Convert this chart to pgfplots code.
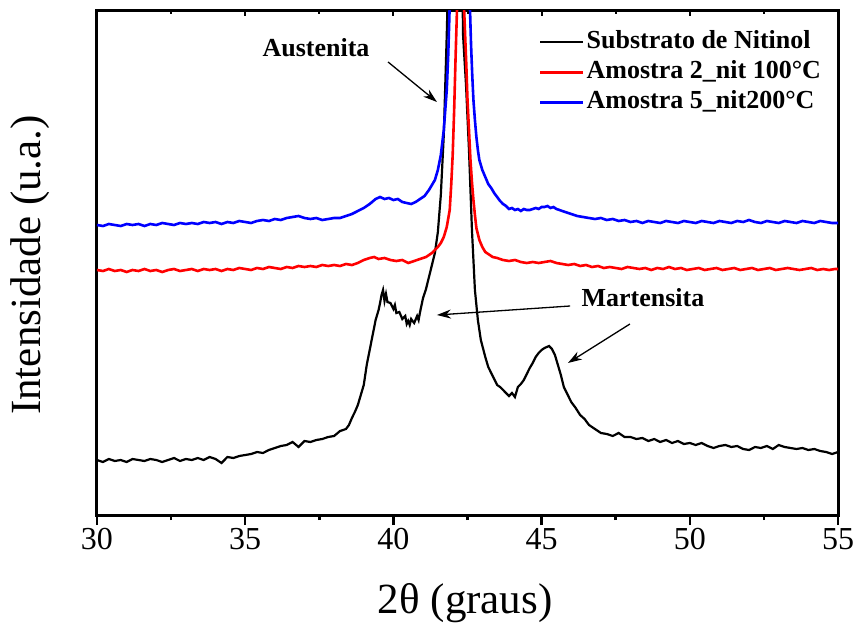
\documentclass[border=0pt]{standalone}
\usepackage{fontspec}
\setmainfont{Liberation Serif}
\usepackage{pgfplots}
\pgfplotsset{compat=1.18}
\usetikzlibrary{arrows.meta}

\pgfplotstableread{
x y
30.0 55
30.2 53
30.4 56
30.6 54
30.8 55
31.0 53
31.2 56
31.4 55
31.6 54
31.8 56
32.0 55
32.2 53
32.4 55
32.6 57
32.8 54
33.0 56
33.2 55
33.4 57
33.6 55
33.8 58
34.0 56
34.2 52
34.4 58
34.6 57
34.8 59
35.0 60
35.2 61
35.4 63
35.6 62
35.8 65
36.0 67
36.2 69
36.4 70
36.6 73
36.8 68
37.0 74
37.2 73
37.4 75
37.6 76
37.8 78
38.0 79
38.2 84
38.4 86
38.5 90
38.6 97
38.7 103
38.8 110
38.9 120
39.0 130
39.1 150
39.2 165
39.3 180
39.4 195
39.5 205
39.55 212
39.6 220
39.65 225
39.7 214
39.75 221
39.8 213
39.9 212
40.0 206
40.05 210
40.1 202
40.2 203
40.3 196
40.4 199
40.45 191
40.5 194
40.55 190
40.6 196
40.7 192
40.8 199
40.85 195
40.9 203
41.0 217
41.1 226
41.2 238
41.3 250
41.4 262
41.5 283
41.6 320
41.7 380
41.8 480
41.9 600
42.0 750
42.1 900
42.2 800
42.3 600
42.35 480
42.45 430
42.55 365
42.65 285
42.75 225
42.85 195
42.95 175
43.1 158
43.2 148
43.3 142
43.4 136
43.5 130
43.6 128
43.7 125
43.8 122
43.9 119
44.0 122
44.1 118
44.2 128
44.3 131
44.4 135
44.5 141
44.6 147
44.7 152
44.8 158
44.9 162
45.0 165
45.1 167
45.25 169
45.35 166
45.45 160
45.55 150
45.65 140
45.75 128
45.85 122
46.0 113
46.15 107
46.3 100
46.45 96
46.6 90
46.8 86
47.0 82
47.2 81
47.4 79
47.6 82
47.8 78
48.0 78
48.2 76
48.4 77
48.6 74
48.8 76
49.0 73
49.2 75
49.4 72
49.6 74
49.8 71
50.0 72
50.2 70
50.4 72
50.6 69
50.8 67
51.0 69
51.2 70
51.4 68
51.6 69
51.8 66
52.0 65
52.2 68
52.4 67
52.6 69
52.8 66
53.0 70
53.2 68
53.4 67
53.6 66
53.8 67
54.0 65
54.2 66
54.4 64
54.6 63
54.8 61
55.0 63
}\substrato

\pgfplotstableread{
x y
30.0 245
30.2 244
30.4 246
30.6 244
30.8 245
31.0 243
31.2 245
31.4 244
31.6 246
31.8 244
32.0 245
32.2 243
32.4 245
32.6 246
32.8 244
33.0 245
33.2 246
33.4 244
33.6 246
33.8 245
34.0 246
34.2 244
34.4 246
34.6 245
34.8 247
35.0 246
35.2 245
35.4 247
35.6 246
35.8 248
36.0 247
36.2 246
36.4 248
36.6 247
36.8 249
37.0 248
37.2 249
37.4 248
37.6 250
37.8 249
38.0 250
38.2 249
38.4 251
38.6 250
38.8 252
39.0 255
39.2 257
39.35 258
39.5 256
39.7 257
39.9 255
40.1 254
40.3 255
40.5 252
40.7 254
40.9 256
41.1 258
41.3 262
41.5 268
41.6 272
41.7 278
41.8 288
41.9 305
41.95 330
42.0 360
42.05 405
42.1 460
42.15 510
42.27 700
42.38 510
42.42 480
42.46 450
42.5 415
42.55 385
42.6 355
42.65 333
42.7 315
42.75 300
42.8 287
42.9 275
43.0 268
43.1 263
43.2 261
43.35 258
43.5 257
43.7 255
43.9 254
44.1 255
44.3 253
44.5 252
44.7 253
44.9 252
45.1 253
45.3 254
45.5 252
45.7 251
45.9 250
46.1 251
46.3 249
46.5 250
46.7 248
46.9 249
47.1 247
47.3 248
47.5 247
47.7 246
47.9 248
48.1 247
48.3 246
48.5 247
48.7 245
48.9 247
49.1 246
49.3 248
49.5 246
49.7 247
49.9 245
50.1 246
50.3 247
50.5 245
50.7 246
50.9 247
51.1 245
51.3 246
51.5 247
51.7 245
51.9 246
52.1 247
52.3 245
52.5 246
52.7 247
52.9 245
53.1 246
53.3 247
53.5 246
53.7 245
53.9 246
54.1 247
54.3 245
54.5 246
54.7 245
54.9 246
55.0 246
}\amostraA

\pgfplotstableread{
x y
30.0 290
30.2 289
30.4 291
30.6 290
30.8 289
31.0 291
31.2 290
31.4 291
31.6 289
31.8 291
32.0 290
32.2 292
32.4 291
32.6 290
32.8 292
33.0 291
33.2 292
33.4 291
33.6 293
33.8 292
34.0 293
34.2 291
34.4 293
34.6 292
34.8 294
35.0 293
35.2 292
35.4 294
35.6 295
35.8 294
36.0 296
36.2 295
36.4 297
36.6 298
36.8 299
37.0 297
37.2 296
37.4 297
37.6 295
37.8 296
38.0 297
38.2 297
38.4 299
38.6 301
38.8 304
39.0 307
39.2 311
39.4 316
39.55 318
39.7 316
39.85 317
40.0 315
40.15 316
40.3 313
40.45 312
40.6 311
40.75 313
40.9 316
41.05 319
41.2 325
41.3 330
41.4 335
41.5 345
41.6 360
41.7 385
41.75 405
41.8 425
41.85 460
41.9 510
42.25 700
42.58 510
42.62 470
42.66 440
42.7 415
42.75 395
42.8 378
42.85 365
42.9 355
43.0 345
43.1 338
43.2 331
43.3 327
43.4 322
43.5 318
43.6 314
43.7 311
43.8 309
43.9 306
44.0 307
44.1 305
44.2 306
44.3 304
44.4 306
44.5 305
44.6 305
44.7 306
44.8 307
44.9 306
45.0 308
45.1 308
45.2 309
45.3 307
45.4 308
45.5 306
45.6 305
45.8 303
46.0 301
46.2 299
46.4 298
46.6 297
46.8 296
47.0 297
47.2 295
47.4 296
47.6 294
47.8 295
48.0 293
48.2 294
48.4 292
48.6 294
48.8 293
49.0 292
49.2 294
49.4 293
49.6 292
49.8 294
50.0 293
50.2 292
50.4 294
50.6 293
50.8 292
51.0 294
51.2 293
51.4 292
51.6 294
51.8 293
52.0 295
52.2 293
52.4 292
52.6 294
52.8 293
53.0 292
53.2 294
53.4 293
53.6 292
53.8 294
54.0 293
54.2 292
54.4 294
54.6 293
54.8 292
55.0 292
}\amostraB

\begin{document}
\begin{tikzpicture}
\begin{axis}[
  scale only axis,
  width=741pt, height=504pt,
  xmin=30, xmax=55, ymin=0, ymax=504,
  xtick={30,35,...,55},
  minor x tick num=1,
  ytick=\empty,
  xtick pos=left,
  tick align=outside,
  major tick length=10pt,
  minor tick length=5pt,
  every tick/.style={line width=2.5pt, black},
  axis line style={line width=3pt},
  /pgf/number format/assume math mode=true,
  ticklabel style={font=\fontsize{32}{38}\selectfont},
  xlabel={2θ (graus)},
  ylabel={Intensidade (u.a.)},
  label style={font=\fontsize{43}{50}\selectfont},
  xlabel style={at={(axis description cs:0.497,-0.175)}, anchor=center},
  ylabel style={at={(axis description cs:-0.0905,0.496)}, anchor=center},
  legend style={at={(0.984,0.972)}, anchor=north east, draw=none, fill=none,
    font=\fontsize{26}{30}\selectfont\bfseries,
    nodes={text height=19pt, text depth=7pt, inner sep=2pt}},
  legend cell align=left,
  legend image code/.code={\draw[#1] (0pt,0pt) -- (43pt,0pt);},
]
\addplot[black, line width=2.2pt] table {\substrato};
\addlegendentry{Substrato de Nitinol}
\addplot[red, line width=2.6pt] table {\amostraA};
\addlegendentry{Amostra 2\_nit 100°C}
\addplot[blue, line width=2.6pt] table {\amostraB};
\addlegendentry{Amostra 5\_nit200°C}

\node[font=\fontsize{26}{30}\selectfont\bfseries] at (axis cs:37.39,467) {Austenita};
\draw[-{Stealth[length=14pt,width=9pt]}, line width=1.3pt] (axis cs:39.82,453) -- (axis cs:41.47,413);
\node[font=\fontsize{26}{30}\selectfont\bfseries] at (axis cs:48.42,217) {Martensita};
\draw[-{Stealth[length=14pt,width=9pt]}, line width=1.3pt] (axis cs:45.96,209) -- (axis cs:41.47,200);
\draw[-{Stealth[length=14pt,width=9pt]}, line width=1.3pt] (axis cs:47.98,191) -- (axis cs:45.89,152);
\coordinate (O) at (rel axis cs:0,0);
\end{axis}
\begin{axis}[
  scale only axis,
  width=741pt, height=504pt,
  xmin=30, xmax=55, ymin=0, ymax=504,
  xtick={30,35,...,55},
  minor x tick num=1,
  ytick=\empty,
  xtick pos=right,
  tick align=inside,
  xticklabels={},
  major tick length=5pt,
  minor tick length=3pt,
  every tick/.style={line width=2pt, black},
  axis line style={draw=none},
]
\end{axis}
\pgfresetboundingbox
\path (O) ++(-97pt,-109pt) rectangle ++(856pt,624pt);
\end{tikzpicture}
\end{document}
